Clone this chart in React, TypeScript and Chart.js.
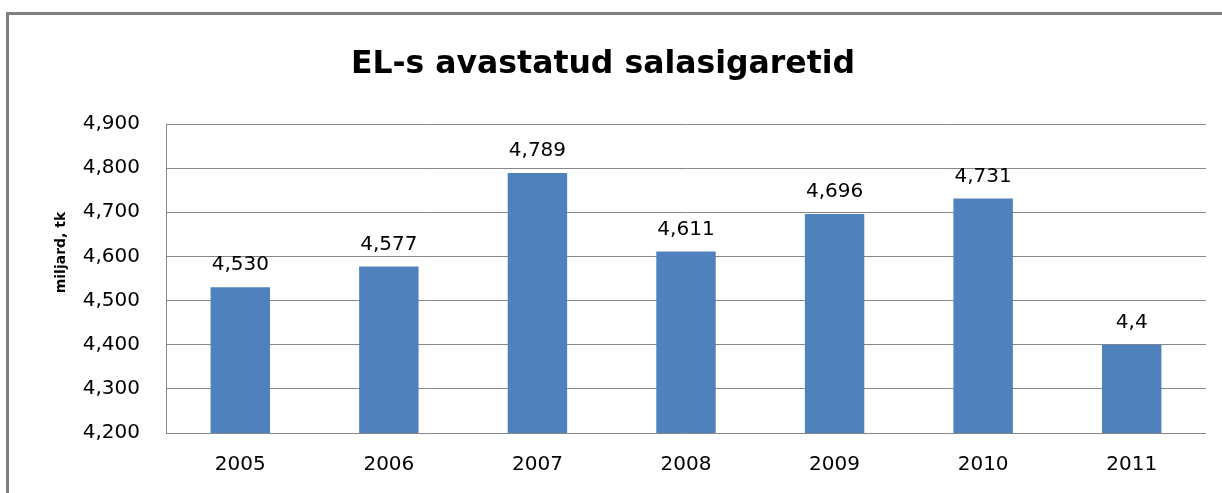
import React, { useEffect, useRef } from "react";
import { Chart, registerables } from "chart.js";

Chart.register(...registerables);

const chartTitle = "EL-s avastatud salasigaretid";
const yAxisTitle = "miljard, tk";
const categories = ["2005", "2006", "2007", "2008", "2009", "2010", "2011"];
const values = [4.53, 4.577, 4.789, 4.611, 4.696, 4.731, 4.4];
const valueLabels = ["4,530", "4,577", "4,789", "4,611", "4,696", "4,731", "4,4"];
const yMin = 4.2;
const yMax = 4.9;
const yStep = 0.1;

const FONT = "'DejaVu Sans', sans-serif";
const GRID = "#868686";
const BAR = "#4F81BD";

const decorPlugin = {
  id: "decor",
  beforeDraw(chart: any) {
    const ctx = chart.ctx;
    ctx.save();
    ctx.fillStyle = "#ffffff";
    ctx.fillRect(0, 0, chart.width, chart.height);
    ctx.fillStyle = "#808080";
    ctx.fillRect(6, 12, 3, chart.height - 12);
    ctx.fillRect(6, 12, chart.width - 6, 3);
    ctx.restore();
  },
  afterDraw(chart: any) {
    const ctx = chart.ctx;
    ctx.save();
    // title
    ctx.fillStyle = "#000";
    ctx.font = `bold 31.5px ${FONT}`;
    ctx.textAlign = "center";
    ctx.textBaseline = "alphabetic";
    ctx.fillText(chartTitle, 603, 73);
    // y title
    ctx.save();
    ctx.translate(65, 252.5);
    ctx.rotate(-Math.PI / 2);
    ctx.font = `bold 14px ${FONT}`;
    ctx.fillText(yAxisTitle, 0, 0);
    ctx.restore();
    // data labels
    const meta = chart.getDatasetMeta(0);
    ctx.font = `20px ${FONT}`;
    meta.data.forEach((bar: any, i: number) => {
      ctx.fillText(valueLabels[i], bar.x, bar.y - 17);
    });
    ctx.restore();
  },
};

export default function App() {
  const ref = useRef<HTMLCanvasElement | null>(null);
  useEffect(() => {
    if (!ref.current) return;
    const chart = new Chart(ref.current, {
      type: "bar",
      data: {
        labels: categories,
        datasets: [
          {
            data: values,
            backgroundColor: BAR,
            borderWidth: 0,
            categoryPercentage: 1,
            barPercentage: 0.4,
          },
        ],
      },
      options: {
        animation: false,
        responsive: false,
        maintainAspectRatio: false,
        layout: { padding: { left: 0, right: 16, top: 124, bottom: 0 } },
        plugins: {
          legend: { display: false },
          title: { display: false },
          tooltip: { enabled: false },
        },
        scales: {
          x: {
            grid: { display: false, drawTicks: false },
            border: { display: false },
            ticks: {
              color: "#000",
              font: { family: FONT, size: 20 },
              padding: 20,
              maxRotation: 0,
            },
            afterFit: (s: any) => {
              s.height = 60;
            },
          },
          y: {
            min: yMin,
            max: yMax,
            grid: { color: GRID, lineWidth: 1, drawTicks: false },
            border: { display: true, color: GRID, width: 1 },
            ticks: {
              stepSize: yStep,
              color: "#000",
              font: { family: FONT, size: 20 },
              padding: 26,
              callback: (v: any) => Number(v).toFixed(3).replace(".", ","),
            },
            afterFit: (s: any) => {
              s.width = 166;
            },
          },
        },
      },
      plugins: [decorPlugin],
    });
    return () => chart.destroy();
  }, []);
  return (
    <div style={{ position: "fixed", left: 0, top: 0, width: 1222, height: 493, background: "#fff" }}>
      <canvas ref={ref} width={1222} height={493} style={{ width: 1222, height: 493, display: "block" }} />
    </div>
  );
}
